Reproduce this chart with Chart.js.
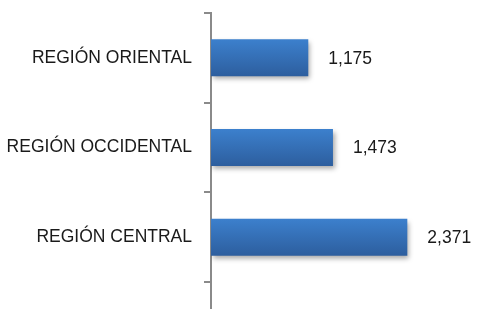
<!DOCTYPE html>
<html>
<head>
<meta charset="utf-8">
<script src="https://cdn.jsdelivr.net/npm/chart.js@4.4.0/dist/chart.umd.min.js"></script>
<style>
  html, body { margin: 0; padding: 0; background: #fff; overflow: hidden; }
  #wrap { width: 478px; height: 309px; }
</style>
</head>
<body>
<div id="wrap"><canvas id="chart" width="478" height="309"></canvas></div>
<script>
// data
const regions = ["REGIÓN ORIENTAL", "REGIÓN OCCIDENTAL", "REGIÓN CENTRAL"];
const totals = [1175, 1473, 2371];
const valueMax = 2500;

const AXIS_GREY = "#8a8a8a";
const FONT = "'Liberation Sans', Arial, sans-serif";

// vertical gradient on each bar, from the category scale
function barFill(ctx) {
  const chart = ctx.chart;
  const y = chart.scales && chart.scales.y;
  if (!y || ctx.dataIndex === undefined) return "#3570b8";
  const mid = y.getPixelForValue(ctx.dataIndex);
  if (!isFinite(mid)) return "#3570b8";
  const half = 18.5;
  const g = chart.ctx.createLinearGradient(0, mid - half, 0, mid + half);
  g.addColorStop(0, "#3c80cd");
  g.addColorStop(1, "#2d5e9e");
  return g;
}

// soft drop shadow under the bars
const barShadow = {
  id: "barShadow",
  beforeDatasetDraw(chart) {
    const c = chart.ctx;
    c.save();
    c.shadowColor = "rgba(0,0,0,0.35)";
    c.shadowBlur = 5;
    c.shadowOffsetX = 2;
    c.shadowOffsetY = 3;
  },
  afterDatasetDraw(chart) {
    chart.ctx.restore();
  }
};

// value labels right of each bar + axis line running to the bottom edge
const valueLabels = {
  id: "valueLabels",
  afterDatasetsDraw(chart) {
    const c = chart.ctx;
    const meta = chart.getDatasetMeta(0);
    c.save();
    c.font = "17.5px " + FONT;
    c.fillStyle = "#1a1a1a";
    c.textAlign = "left";
    c.textBaseline = "middle";
    meta.data.forEach((bar, i) => {
      c.fillText(totals[i].toLocaleString("en-US"), bar.x + 20, bar.y + 1);
    });
    const area = chart.chartArea;
    c.strokeStyle = AXIS_GREY;
    c.lineWidth = 2;
    c.beginPath();
    c.moveTo(area.left, area.bottom);
    c.lineTo(area.left, chart.height);
    c.stroke();
    c.restore();
  }
};

new Chart(document.getElementById("chart"), {
  type: "bar",
  data: {
    labels: regions,
    datasets: [{
      data: totals,
      backgroundColor: barFill,
      borderWidth: 0,
      categoryPercentage: 1,
      barPercentage: 0.413
    }]
  },
  options: {
    indexAxis: "y",
    responsive: false,
    animation: false,
    layout: { padding: { top: 13, bottom: 27, right: 60, left: 0 } },
    plugins: {
      legend: { display: false },
      tooltip: { enabled: false }
    },
    scales: {
      x: {
        display: false,
        min: 0,
        max: valueMax
      },
      y: {
        afterFit(scale) {
          scale.width = 211;
          scale.paddingTop = 0;
          scale.paddingBottom = 0;
        },
        border: { display: true, color: AXIS_GREY, width: 2 },
        grid: {
          display: true,
          offset: true,
          drawOnChartArea: false,
          drawTicks: true,
          tickLength: 7,
          color: AXIS_GREY,
          lineWidth: 2
        },
        ticks: {
          padding: 12,
          color: "#1a1a1a",
          font: { family: FONT, size: 17.5 }
        }
      }
    }
  },
  plugins: [barShadow, valueLabels]
});
</script>
</body>
</html>
